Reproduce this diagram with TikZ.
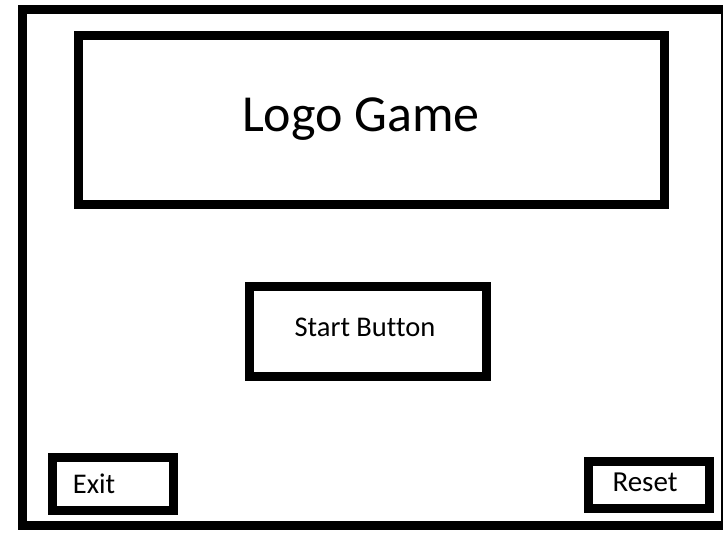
\documentclass[tikz,border=0pt]{standalone}
\usepackage{fontspec}
\setmainfont{Carlito}[Ligatures=NoCommon]
\begin{document}
\begin{tikzpicture}[x=1pt,y=-1pt,
  boxline/.style={draw=black,line width=9pt,rectangle,inner sep=0pt,outer sep=0pt,fill=white},
  lbl/.style={inner sep=0pt,text=black}]
\clip (0,0) rectangle (723,539);
\fill[white] (0,0) rectangle (723,539);
% outer frame
\node[boxline,fill=none,anchor=north west,minimum width=703.5pt,minimum height=516pt] (frame) at (22,9.5) {};
% boxes
\node[boxline,anchor=north west,minimum width=586pt,minimum height=169pt] (logo) at (78.5,35.5) {};
\node[boxline,anchor=north west,minimum width=236.5pt,minimum height=90pt] (start) at (249.5,286) {};
\node[boxline,anchor=north west,minimum width=121.6pt,minimum height=52.5pt] (exit) at (52.2,457.8) {};
\node[boxline,anchor=north west,minimum width=120.7pt,minimum height=46.8pt] (reset) at (588.8,461.2) {};
% labels
\node[lbl,anchor=base,font=\fontsize{52}{62}\selectfont] (logotext) at (361,131) {Logo Game};
\node[lbl,anchor=base,font=\fontsize{28.5}{34}\selectfont] (starttext) at (365,336.7) {Start Button};
\node[lbl,anchor=base west,font=\fontsize{28.5}{34}\selectfont] (exittext) at (72.7,493.3) {Exit};
\node[lbl,anchor=base,font=\fontsize{29}{35}\selectfont] (resettext) at (645,491.7) {Reset};
\end{tikzpicture}
\end{document}
